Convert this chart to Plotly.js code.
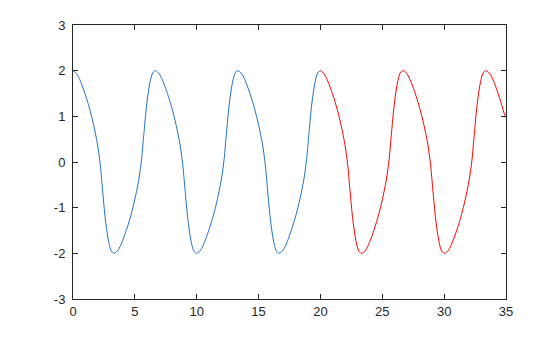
<!DOCTYPE html>
<html>
<head>
<meta charset="utf-8">
<script src="https://cdn.plot.ly/plotly-3.0.1.min.js"></script>
<style>html,body{margin:0;padding:0;background:#fff;}#chart{width:560px;height:337px;}</style>
</head>
<body>
<div id="chart"></div>
<script>
// Values
const tBlue = [
  0,0.3,0.6,0.9,1.2,1.5,1.8,2.0,2.2,2.4,2.6,2.8,3.0,3.15,
  3.34,3.64,3.94,4.24,4.54,4.84,5.14,5.34,5.54,5.74,5.94,6.14,6.34,6.49,
  6.67,6.97,7.27,7.57,7.87,8.17,8.47,8.67,8.87,9.07,9.27,9.47,9.67,9.82,
  10.01,10.31,10.61,10.91,11.21,11.51,11.81,12.01,12.21,12.41,12.61,12.81,13.01,13.16,
  13.34,13.64,13.94,14.24,14.54,14.84,15.14,15.34,15.54,15.74,15.94,16.14,16.34,16.49,
  16.68,16.98,17.28,17.58,17.88,18.18,18.48,18.68,18.88,19.08,19.28,19.48,19.68,19.83,
  20.0
];
const yBlue = [
  2.00,1.93,1.77,1.55,1.30,1.00,0.64,0.35,-0.05,-0.65,-1.22,-1.62,-1.88,-1.97,
  -2.00,-1.93,-1.77,-1.55,-1.30,-1.00,-0.64,-0.35,0.05,0.65,1.22,1.62,1.88,1.97,
  2.00,1.93,1.77,1.55,1.30,1.00,0.64,0.35,-0.05,-0.65,-1.22,-1.62,-1.88,-1.97,
  -2.00,-1.93,-1.77,-1.55,-1.30,-1.00,-0.64,-0.35,0.05,0.65,1.22,1.62,1.88,1.97,
  2.00,1.93,1.77,1.55,1.30,1.00,0.64,0.35,-0.05,-0.65,-1.22,-1.62,-1.88,-1.97,
  -2.00,-1.93,-1.77,-1.55,-1.30,-1.00,-0.64,-0.35,0.05,0.65,1.22,1.62,1.88,1.97,
  2.00
];
const tRed = [
  20.0,20.3,20.6,20.9,21.2,21.5,21.8,22.0,22.2,22.4,22.6,22.8,23.0,23.15,
  23.35,23.65,23.95,24.25,24.55,24.85,25.15,25.35,25.55,25.75,25.95,26.15,26.35,26.5,
  26.7,27.0,27.3,27.6,27.9,28.2,28.5,28.7,28.9,29.1,29.3,29.5,29.7,29.85,
  30.05,30.35,30.65,30.95,31.25,31.55,31.85,32.05,32.25,32.45,32.65,32.85,33.05,33.2,
  33.4,33.7,34.0,34.3,34.6,34.85,35.0
];
const yRed = [
  2.00,1.93,1.77,1.55,1.30,1.00,0.64,0.35,-0.05,-0.65,-1.22,-1.62,-1.88,-1.97,
  -2.00,-1.93,-1.77,-1.55,-1.30,-1.00,-0.64,-0.35,0.05,0.65,1.22,1.62,1.88,1.97,
  2.00,1.93,1.77,1.55,1.30,1.00,0.64,0.35,-0.05,-0.65,-1.22,-1.62,-1.88,-1.97,
  -2.00,-1.93,-1.77,-1.55,-1.30,-1.00,-0.64,-0.35,0.05,0.65,1.22,1.62,1.88,1.97,
  2.00,1.93,1.77,1.55,1.30,1.07,0.97
];
const xTicks = [0,5,10,15,20,25,30,35];
const yTicks = [-3,-2,-1,0,1,2,3];

const traces = [
  {x: tBlue, y: yBlue, type: 'scatter', mode: 'lines',
   line: {color: '#1f72c9', width: 1, shape: 'spline', smoothing: 0.8}, hoverinfo: 'skip'},
  {x: tRed, y: yRed, type: 'scatter', mode: 'lines',
   line: {color: '#ff0000', width: 1, shape: 'spline', smoothing: 0.8}, hoverinfo: 'skip'}
];

const axisCommon = {
  showgrid: false, zeroline: false, showline: true, mirror: 'ticks',
  linecolor: '#262626', linewidth: 1, ticks: 'inside', ticklen: 5,
  tickcolor: '#262626', tickwidth: 1,
  tickfont: {family: 'Liberation Sans, Arial, sans-serif', size: 13, color: '#262626'}
};

const layout = {
  width: 560, height: 337,
  margin: {l: 73, r: 54, t: 25, b: 38, pad: 0},
  paper_bgcolor: '#ffffff', plot_bgcolor: '#ffffff',
  showlegend: false,
  xaxis: Object.assign({}, axisCommon, {range: [0, 35], tickvals: xTicks, ticktext: xTicks.map(String)}),
  yaxis: Object.assign({}, axisCommon, {range: [-3, 3], tickvals: yTicks, ticktext: yTicks.map(String), ticklabelstandoff: 4})
};

Plotly.newPlot('chart', traces, layout, {staticPlot: true, displayModeBar: false});
</script>
</body>
</html>
